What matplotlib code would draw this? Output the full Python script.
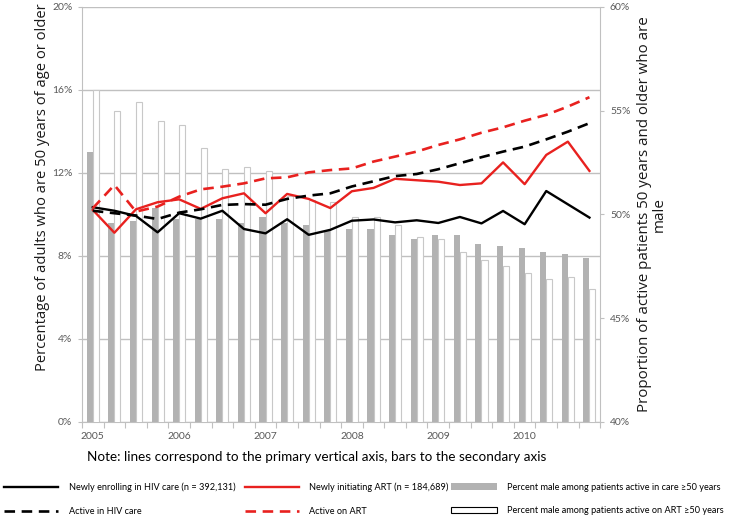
import numpy as np
import matplotlib.pyplot as plt
import matplotlib.ticker as mtick
from matplotlib.lines import Line2D
from matplotlib.patches import Patch

# quarterly data, 2005 Q1 .. 2010 Q4
years = ["2005", "2006", "2007", "2008", "2009", "2010"]

# lines (primary axis, %)
enroll_care = [10.35, 10.18, 9.93, 9.14, 10.06, 9.8, 10.18, 9.3, 9.09, 9.77, 9.02, 9.26,
               9.7, 9.76, 9.62, 9.72, 9.59, 9.88, 9.57, 10.17, 9.53, 11.13, 10.49, 9.85]
init_art = [10.22, 9.12, 10.25, 10.59, 10.73, 10.27, 10.78, 11.02, 10.06, 10.99, 10.75, 10.31,
            11.12, 11.28, 11.72, 11.65, 11.58, 11.42, 11.5, 12.51, 11.46, 12.87, 13.51, 12.1]
active_care = [10.18, 10.06, 9.95, 9.78, 10.09, 10.25, 10.46, 10.5, 10.47, 10.75, 10.91, 11.02,
               11.35, 11.6, 11.85, 11.95, 12.18, 12.47, 12.76, 13.03, 13.27, 13.62, 13.99, 14.4]
active_art = [10.3, 11.42, 10.14, 10.38, 10.86, 11.21, 11.34, 11.5, 11.74, 11.79, 12.03, 12.14,
              12.22, 12.55, 12.79, 13.03, 13.35, 13.62, 13.94, 14.2, 14.52, 14.8, 15.2, 15.65]

# bars (secondary axis, % male)
male_care = [53.0, 49.6, 49.7, 50.3, 49.8, 49.8, 49.8, 49.6, 49.9, 49.6, 49.5, 49.2,
             49.3, 49.3, 49.0, 48.8, 49.0, 49.0, 48.6, 48.5, 48.4, 48.2, 48.1, 47.9]
male_art = [56.0, 55.0, 55.4, 54.5, 54.3, 53.2, 52.2, 52.3, 52.1, 50.9, 50.7, 50.6,
            49.9, 49.9, 49.5, 48.9, 48.8, 48.2, 47.8, 47.5, 47.2, 46.9, 47.0, 46.4]

RED = "#e8211f"
GRID = "#c0c0c0"
TICKC = "#595959"
FONT = "Lato"

x = np.arange(len(enroll_care))
w = 0.28

fig = plt.figure(figsize=(7.32, 5.17), dpi=100)
ax = fig.add_axes([0.112, 0.1838, 0.708, 0.8027])

# background axis: grid + left scale
ax.set_xlim(-0.5, len(x) - 0.5)
ax.set_ylim(0, 20)
ax.set_yticks([0, 4, 8, 12, 16, 20])
ax.yaxis.set_major_formatter(mtick.PercentFormatter(decimals=0))
ax.grid(axis="y", color=GRID, linewidth=1.0)
ax.set_xticks(np.arange(-0.5, len(x), 1))
ax.set_xticklabels([])
ax.set_xticks(np.arange(0, len(x), 4), minor=True)
ax.set_xticklabels(years, minor=True)
ax.tick_params(axis="x", which="major", length=4, color=GRID, direction="out")
ax.tick_params(axis="x", which="minor", length=0, pad=7, labelsize=7.5, labelcolor=TICKC)
ax.tick_params(axis="y", length=3, color=GRID, pad=4, labelsize=7.5, labelcolor=TICKC)
for s in ["top", "right"]:
    ax.spines[s].set_visible(False)
for s in ["left", "bottom"]:
    ax.spines[s].set_color(GRID)
for lab in ax.get_xticklabels(minor=True) + ax.get_yticklabels():
    lab.set_family(FONT)
ax.set_ylabel("Percentage of adults who are 50 years of age or older",
              family="Open Sans", fontsize=10.6, color="#1a1a1a")
ax.yaxis.set_label_coords(-0.062, 0.566)

# bars on secondary axis
ax2 = ax.twinx()
ax2.set_ylim(40, 60)
ax2.set_yticks([40, 45, 50, 55, 60])
ax2.yaxis.set_major_formatter(mtick.PercentFormatter(decimals=0))
ax2.bar(x - w / 2, male_care, width=w, color="#b2b2b2", zorder=2)
ax2.bar(x + w / 2, male_art, width=w, color="white", edgecolor="#c8c8c8", linewidth=0.8, zorder=2)
ax2.tick_params(axis="y", length=3, color=GRID, pad=4, labelsize=7.5, labelcolor=TICKC)
for lab in ax2.get_yticklabels():
    lab.set_family(FONT)
for s in ["top", "left", "bottom"]:
    ax2.spines[s].set_visible(False)
ax2.spines["right"].set_color(GRID)
ax2.set_ylabel("Proportion of active patients 50 years and older who are\nmale",
               family="Open Sans", fontsize=10.9, color="#1a1a1a", rotation=90,
               linespacing=1.05)
ax2.yaxis.set_label_coords(1.07, 0.5)

# lines on top, primary scale
ax3 = ax.twinx()
ax3.set_ylim(0, 20)
ax3.set_yticks([])
for s in ax3.spines.values():
    s.set_visible(False)
ax3.plot(x, enroll_care, color="black", lw=1.7)
ax3.plot(x, init_art, color=RED, lw=1.7)
ax3.plot(x, active_care, color="black", lw=1.9, dashes=(4, 2.5))
ax3.plot(x, active_art, color=RED, lw=1.9, dashes=(4, 2.5))

fig.text(0.432, 0.116, "Note: lines correspond to the primary vertical axis, bars to the secondary axis",
         ha="center", va="center", family=FONT, fontsize=9.7)

# legend, three columns of two rows
leg_kw = dict(frameon=False, prop={"family": FONT, "size": 6.6}, handletextpad=1.1,
              labelspacing=1.57, borderaxespad=0, borderpad=0)
cols = [
    ([Line2D([], [], color="black", lw=1.7), Line2D([], [], color="black", lw=1.9, dashes=(4, 2.5))],
     ["Newly enrolling in HIV care (n = 392,131)", "Active in HIV care"], 0.006, 5.9),
    ([Line2D([], [], color=RED, lw=1.7), Line2D([], [], color=RED, lw=1.9, dashes=(4, 2.5))],
     ["Newly initiating ART (n = 184,689)", "Active on ART"], 0.335, 5.9),
    ([Patch(facecolor="#b2b2b2"), Patch(facecolor="white", edgecolor="black", linewidth=0.8)],
     ["Percent male among patients active in care \u226550 years",
      "Percent male among patients active on ART \u226550 years"], 0.616, 5.0),
]
for handles, labels, xpos, hl in cols:
    fig.legend(handles, labels, loc="upper left", bbox_to_anchor=(xpos, 0.066),
               handlelength=hl, **leg_kw)

fig.savefig("out.png", dpi=100)
